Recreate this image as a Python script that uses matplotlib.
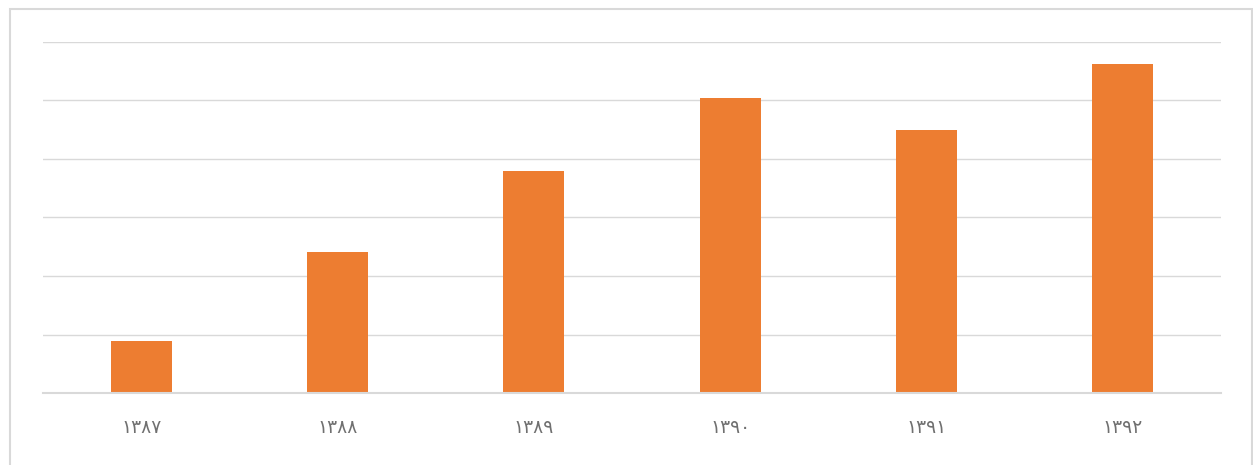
import matplotlib.pyplot as plt
from matplotlib.patches import Rectangle

# Data (in gridline units)
years = ['۱۳۸۷', '۱۳۸۸', '۱۳۸۹', '۱۳۹۰', '۱۳۹۱', '۱۳۹۲']
values = [0.89, 2.41, 3.80, 5.05, 4.50, 5.63]
grid_levels = [0, 1, 2, 3, 4, 5, 6]

W, H = 1253, 465
fig = plt.figure(figsize=(W / 100, H / 100), dpi=100)
ax = fig.add_axes([43 / W, (H - 393) / H, (1221 - 43) / W, (393 - 42) / H])

x = list(range(len(years)))
ax.bar(x, values, width=0.31, color='#ED7D31', zorder=3)

ax.set_xlim(-0.5, len(years) - 0.5)
ax.set_ylim(0, 6)
ax.set_yticks(grid_levels)
ax.set_yticklabels([])
ax.tick_params(axis='y', length=0)
ax.grid(axis='y', color='#d9d9d9', linewidth=1, zorder=0)

ax.set_xticks(x)
ax.set_xticklabels(years, family=['DejaVu Sans'], fontsize=13.5, color='#707070')
ax.tick_params(axis='x', length=0, pad=18)

for side in ['top', 'right', 'left']:
    ax.spines[side].set_visible(False)
ax.spines['bottom'].set_color('#d9d9d9')
ax.spines['bottom'].set_linewidth(1.5)
ax.spines['bottom'].set_zorder(4)

# light frame around the chart
fig.patches.append(Rectangle((9.5 / W, -0.05), (1252 - 9.5) / W, 1.05 - 9.5 / H,
                             transform=fig.transFigure, fill=False,
                             edgecolor='#d9d9d9', linewidth=1.5))

fig.savefig('out.png', dpi=100)
